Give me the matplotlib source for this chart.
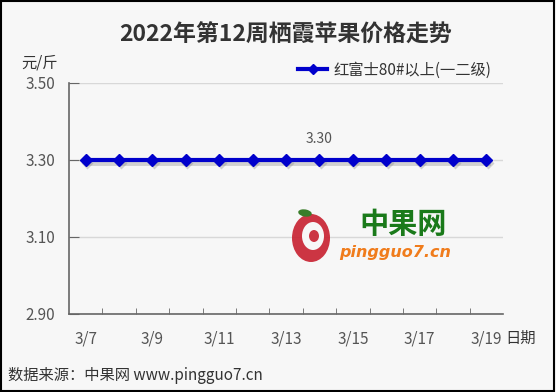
import matplotlib
matplotlib.use("Agg")
import matplotlib.pyplot as plt
import matplotlib.transforms as mtransforms
from matplotlib.patches import Ellipse, Rectangle
from matplotlib.lines import Line2D

plt.rcParams['font.family'] = ['Noto Sans CJK SC', 'DejaVu Sans']

dates = ["3/7", "3/8", "3/9", "3/10", "3/11", "3/12", "3/13",
         "3/14", "3/15", "3/16", "3/17", "3/18", "3/19"]
prices = [3.30, 3.30, 3.30, 3.30, 3.30, 3.30, 3.30,
          3.30, 3.30, 3.30, 3.30, 3.30, 3.30]
y_ticks = [2.90, 3.10, 3.30, 3.50]
series_name = "红富士80#以上(一二级)"
title = "2022年第12周栖霞苹果价格走势"
label_idx = 7

bg = "#f7f7f7"
W, H = 556, 392
def fx(px): return px / W
def fy(py): return 1 - py / H

fig = plt.figure(figsize=(5.56, 3.92), dpi=100, facecolor=bg)
ax = fig.add_axes([0.124, 0.199, 0.781, 0.590], facecolor=bg)

x = list(range(len(dates)))
shadow_tr = mtransforms.offset_copy(ax.transData, fig=fig, x=1.5, y=-3, units="dots")
ax.plot(x, prices, color="#888888", lw=3.5, marker="D", ms=6, alpha=0.35,
        markeredgecolor="none", transform=shadow_tr, zorder=2)
ax.plot(x, prices, color="#0000cc", lw=3, marker="D", ms=6,
        markeredgecolor="#0000cc", markerfacecolor="#0000cc", zorder=3)

ax.set_xlim(-0.5, len(dates) - 0.5)
ax.set_ylim(2.90, 3.50)
ax.set_yticks(y_ticks)
ax.set_yticklabels([f"{v:.2f}" for v in y_ticks], fontsize=11, color="#555555")
ax.grid(axis="y", color="#d8d8d8", lw=1)
ax.set_axisbelow(True)

ax.set_xticks(x[::2])
ax.set_xticklabels(dates[::2], fontsize=11, color="#555555")
ax.set_xticks([i + 0.5 for i in range(len(dates) - 1)], minor=True)
ax.tick_params(axis="x", which="major", length=0, pad=12)
ax.tick_params(axis="x", which="minor", direction="in", length=4, color="#666666")
ax.tick_params(axis="y", direction="in", length=7, color="#666666", pad=10)

for s in ["top", "right"]:
    ax.spines[s].set_visible(False)
for s in ["left", "bottom"]:
    ax.spines[s].set_color("#666666")
    ax.spines[s].set_linewidth(1.2)

ax.annotate(f"{prices[label_idx]:.2f}", (x[label_idx], prices[label_idx]),
            xytext=(0, 10), textcoords="offset points", ha="center", va="bottom",
            fontsize=10, color="#555555")

fig.text(fx(286), fy(35), title, ha="center", va="center", fontsize=16.5,
         fontweight="bold", color="#333333")
fig.text(fx(40), fy(63), "元/斤", ha="center", va="center", fontsize=11, color="#333333")
fig.text(fx(521), fy(338), "日期", ha="center", va="center", fontsize=11, color="#333333")
fig.text(fx(8), fy(376), "数据来源：中果网 www.pingguo7.cn", ha="left", va="center",
         fontsize=11, color="#333333")

handle = Line2D([], [], color="#0000cc", lw=3, marker="D", ms=5)
leg = fig.legend([handle], [series_name], loc="center left",
                 bbox_to_anchor=(fx(298), fy(70)), bbox_transform=fig.transFigure,
                 frameon=False, fontsize=11, handlelength=1.9, handletextpad=0.4,
                 borderaxespad=0, borderpad=0)
for t in leg.get_texts():
    t.set_color("#333333")

# watermark logo
fig.patches.append(Ellipse((fx(311), fy(238)), 38 / W, 48 / H, transform=fig.transFigure,
                           facecolor="#c8202f", edgecolor="none", zorder=1, alpha=0.9))
fig.patches.append(Ellipse((fx(313), fy(236)), 22 / W, 28 / H, transform=fig.transFigure,
                           facecolor=bg, edgecolor="none", zorder=1))
fig.patches.append(Ellipse((fx(314), fy(236)), 10 / W, 12 / H, transform=fig.transFigure,
                           facecolor="#c8202f", edgecolor="none", zorder=1, alpha=0.9))
fig.patches.append(Ellipse((fx(305), fy(213)), 14 / W, 7 / H, angle=-20, transform=fig.transFigure,
                           facecolor="#3a7d2a", edgecolor="none", zorder=1))
fig.text(fx(403), fy(224), "中果网", ha="center", va="center", fontsize=21,
         fontweight="bold", color="#1a7a1a", zorder=1)
fig.text(fx(395), fy(253), "pingguo7.cn", ha="center", va="center", fontsize=11.5,
         fontweight="bold", fontstyle="italic", color="#f07c1c", family="DejaVu Sans", zorder=1)

fig.patches.append(Rectangle((0.002, 0.003), 0.995, 0.994, transform=fig.transFigure,
                             fill=False, edgecolor="black", lw=1.5, zorder=10))

fig.savefig("out.png", dpi=100, facecolor=bg)
